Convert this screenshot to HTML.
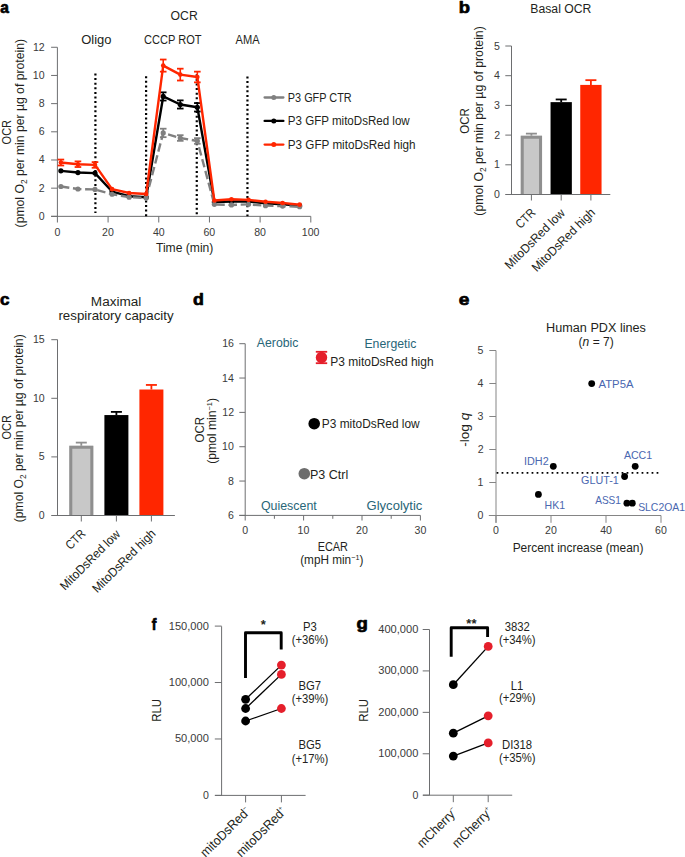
<!DOCTYPE html><html><head><meta charset="utf-8"><style>html,body{margin:0;padding:0;background:#fff;overflow:hidden;width:685px;height:857px;}svg{display:block}</style></head><body>
<svg width="685" height="857" viewBox="0 0 685 857" font-family="&quot;Liberation Sans&quot;, sans-serif">
<rect width="685" height="857" fill="#fff"/>
<text transform="translate(0.18,12.60) scale(0.9235,1)" font-size="16.8" fill="#000" font-weight="bold"  stroke="#000" stroke-width="0.7" stroke-linejoin="round">a</text>
<text transform="translate(170.55,20.00) scale(0.9795,1)" font-size="12.51" fill="#231f20"   >OCR</text>
<text transform="translate(81.22,44.00) scale(1.0933,1)" font-size="11.87" fill="#231f20"   >Oligo</text>
<text transform="translate(143.95,43.90) scale(0.9319,1)" font-size="11.87" fill="#231f20"   >CCCP ROT</text>
<text transform="translate(235.60,43.90) scale(0.9339,1)" font-size="11.87" fill="#231f20"   >AMA</text>
<line x1="57.40" y1="47.30" x2="57.40" y2="216.35" stroke="#6d6e70" stroke-width="1" />
<line x1="51.10" y1="216.35" x2="310.80" y2="216.35" stroke="#6d6e70" stroke-width="1" />
<line x1="51.10" y1="216.35" x2="57.40" y2="216.35" stroke="#6d6e70" stroke-width="1" />
<text transform="translate(38.69,219.85) scale(1.0600,1)" font-size="10.0" fill="#3a3a3a"   >0</text>
<line x1="51.10" y1="188.17" x2="57.40" y2="188.17" stroke="#6d6e70" stroke-width="1" />
<text transform="translate(38.85,191.67) scale(1.0600,1)" font-size="10.0" fill="#3a3a3a"   >2</text>
<line x1="51.10" y1="159.99" x2="57.40" y2="159.99" stroke="#6d6e70" stroke-width="1" />
<text transform="translate(38.63,163.49) scale(1.0600,1)" font-size="10.0" fill="#3a3a3a"   >4</text>
<line x1="51.10" y1="131.81" x2="57.40" y2="131.81" stroke="#6d6e70" stroke-width="1" />
<text transform="translate(38.74,135.31) scale(1.0600,1)" font-size="10.0" fill="#3a3a3a"   >6</text>
<line x1="51.10" y1="103.63" x2="57.40" y2="103.63" stroke="#6d6e70" stroke-width="1" />
<text transform="translate(38.74,107.13) scale(1.0600,1)" font-size="10.0" fill="#3a3a3a"   >8</text>
<line x1="51.10" y1="75.45" x2="57.40" y2="75.45" stroke="#6d6e70" stroke-width="1" />
<text transform="translate(32.80,78.95) scale(1.0600,1)" font-size="10.0" fill="#3a3a3a"   >10</text>
<line x1="51.10" y1="47.27" x2="57.40" y2="47.27" stroke="#6d6e70" stroke-width="1" />
<text transform="translate(32.96,50.77) scale(1.0600,1)" font-size="10.0" fill="#3a3a3a"   >12</text>
<line x1="57.40" y1="216.35" x2="57.40" y2="222.50" stroke="#6d6e70" stroke-width="1" />
<text transform="translate(54.43,235.60) scale(1.0600,1)" font-size="10.0" fill="#3a3a3a"   >0</text>
<line x1="108.08" y1="216.35" x2="108.08" y2="222.50" stroke="#6d6e70" stroke-width="1" />
<text transform="translate(102.12,235.60) scale(1.0600,1)" font-size="10.0" fill="#3a3a3a"   >20</text>
<line x1="158.76" y1="216.35" x2="158.76" y2="222.50" stroke="#6d6e70" stroke-width="1" />
<text transform="translate(152.96,235.60) scale(1.0600,1)" font-size="10.0" fill="#3a3a3a"   >40</text>
<line x1="209.44" y1="216.35" x2="209.44" y2="222.50" stroke="#6d6e70" stroke-width="1" />
<text transform="translate(203.48,235.60) scale(1.0600,1)" font-size="10.0" fill="#3a3a3a"   >60</text>
<line x1="260.12" y1="216.35" x2="260.12" y2="222.50" stroke="#6d6e70" stroke-width="1" />
<text transform="translate(254.18,235.60) scale(1.0600,1)" font-size="10.0" fill="#3a3a3a"   >80</text>
<line x1="310.80" y1="216.35" x2="310.80" y2="222.50" stroke="#6d6e70" stroke-width="1" />
<text transform="translate(301.76,235.60) scale(1.0600,1)" font-size="10.0" fill="#3a3a3a"   >100</text>
<text transform="translate(155.96,252.40) scale(0.9939,1)" font-size="12.19" fill="#231f20"   >Time (min)</text>
<text transform="translate(10.50,144.39) rotate(-90) scale(0.9012,1)" font-size="12.19" fill="#231f20"   >OCR</text>
<text transform="translate(24.30,227.43) rotate(-90) scale(0.9748,1)" font-size="12.51" fill="#231f20"   >(pmol O<tspan font-size="8.5" dy="2.5">2</tspan><tspan dy="-2.5"> per min per µg of protein)</tspan></text>
<line x1="95.41" y1="73.50" x2="95.41" y2="213.00" stroke="#000" stroke-width="2.2" stroke-dasharray="2 2.6"/>
<line x1="146.09" y1="76.20" x2="146.09" y2="216.30" stroke="#000" stroke-width="2.2" stroke-dasharray="2 2.6"/>
<line x1="196.77" y1="74.30" x2="196.77" y2="216.30" stroke="#000" stroke-width="2.2" stroke-dasharray="2 2.6"/>
<line x1="247.45" y1="76.50" x2="247.45" y2="216.30" stroke="#000" stroke-width="2.2" stroke-dasharray="2 2.6"/>
<polyline points="60.90,170.84 77.95,172.53 95.00,173.09 112.06,191.55 129.11,196.20 146.17,197.19 163.22,96.44 180.27,104.48 197.33,107.29 214.38,201.98 231.44,201.56 248.49,201.56 265.54,203.39 282.60,204.23 299.65,205.64" fill="none" stroke="#000" stroke-width="2.4" stroke-linejoin="round" />
<circle cx="60.90" cy="170.84" r="2.6" fill="#000"/>
<circle cx="77.95" cy="172.53" r="2.6" fill="#000"/>
<circle cx="95.00" cy="173.09" r="2.6" fill="#000"/>
<circle cx="112.06" cy="191.55" r="2.6" fill="#000"/>
<circle cx="129.11" cy="196.20" r="2.6" fill="#000"/>
<circle cx="146.17" cy="197.19" r="2.6" fill="#000"/>
<line x1="163.22" y1="216.35" x2="163.22" y2="216.35" stroke="#000" stroke-width="0" />
<line x1="163.22" y1="92.36" x2="163.22" y2="100.53" stroke="#000" stroke-width="1.6" />
<line x1="159.92" y1="92.36" x2="166.52" y2="92.36" stroke="#000" stroke-width="1.8" />
<line x1="159.92" y1="100.53" x2="166.52" y2="100.53" stroke="#000" stroke-width="1.8" />
<circle cx="163.22" cy="96.44" r="2.6" fill="#000"/>
<line x1="180.27" y1="216.35" x2="180.27" y2="216.35" stroke="#000" stroke-width="0" />
<line x1="180.27" y1="100.39" x2="180.27" y2="108.56" stroke="#000" stroke-width="1.6" />
<line x1="176.97" y1="100.39" x2="183.57" y2="100.39" stroke="#000" stroke-width="1.8" />
<line x1="176.97" y1="108.56" x2="183.57" y2="108.56" stroke="#000" stroke-width="1.8" />
<circle cx="180.27" cy="104.48" r="2.6" fill="#000"/>
<line x1="197.33" y1="216.35" x2="197.33" y2="216.35" stroke="#000" stroke-width="0" />
<line x1="197.33" y1="103.07" x2="197.33" y2="111.52" stroke="#000" stroke-width="1.6" />
<line x1="194.03" y1="103.07" x2="200.63" y2="103.07" stroke="#000" stroke-width="1.8" />
<line x1="194.03" y1="111.52" x2="200.63" y2="111.52" stroke="#000" stroke-width="1.8" />
<circle cx="197.33" cy="107.29" r="2.6" fill="#000"/>
<circle cx="214.38" cy="201.98" r="2.6" fill="#000"/>
<circle cx="231.44" cy="201.56" r="2.6" fill="#000"/>
<circle cx="248.49" cy="201.56" r="2.6" fill="#000"/>
<circle cx="265.54" cy="203.39" r="2.6" fill="#000"/>
<circle cx="282.60" cy="204.23" r="2.6" fill="#000"/>
<circle cx="299.65" cy="205.64" r="2.6" fill="#000"/>
<polyline points="60.90,186.48 77.95,189.02 95.00,189.44 112.06,194.23 129.11,197.19 146.17,197.89 163.22,132.94 180.27,138.01 197.33,140.97 214.38,204.37 231.44,204.94 248.49,204.37 265.54,205.64 282.60,206.06 299.65,206.77" fill="none" stroke="#808080" stroke-width="2.4" stroke-linejoin="round" stroke-dasharray="8.5 3.7"/>
<circle cx="60.90" cy="186.48" r="2.6" fill="#808080"/>
<circle cx="77.95" cy="189.02" r="2.6" fill="#808080"/>
<circle cx="95.00" cy="189.44" r="2.6" fill="#808080"/>
<circle cx="112.06" cy="194.23" r="2.6" fill="#808080"/>
<circle cx="129.11" cy="197.19" r="2.6" fill="#808080"/>
<circle cx="146.17" cy="197.89" r="2.6" fill="#808080"/>
<line x1="163.22" y1="216.35" x2="163.22" y2="216.35" stroke="#808080" stroke-width="0" />
<line x1="163.22" y1="128.71" x2="163.22" y2="137.16" stroke="#808080" stroke-width="1.6" />
<line x1="159.92" y1="128.71" x2="166.52" y2="128.71" stroke="#808080" stroke-width="1.8" />
<line x1="159.92" y1="137.16" x2="166.52" y2="137.16" stroke="#808080" stroke-width="1.8" />
<circle cx="163.22" cy="132.94" r="2.6" fill="#808080"/>
<line x1="180.27" y1="216.35" x2="180.27" y2="216.35" stroke="#808080" stroke-width="0" />
<line x1="180.27" y1="135.19" x2="180.27" y2="140.83" stroke="#808080" stroke-width="1.6" />
<line x1="176.97" y1="135.19" x2="183.57" y2="135.19" stroke="#808080" stroke-width="1.8" />
<line x1="176.97" y1="140.83" x2="183.57" y2="140.83" stroke="#808080" stroke-width="1.8" />
<circle cx="180.27" cy="138.01" r="2.6" fill="#808080"/>
<line x1="197.33" y1="216.35" x2="197.33" y2="216.35" stroke="#808080" stroke-width="0" />
<line x1="197.33" y1="138.15" x2="197.33" y2="143.79" stroke="#808080" stroke-width="1.6" />
<line x1="194.03" y1="138.15" x2="200.63" y2="138.15" stroke="#808080" stroke-width="1.8" />
<line x1="194.03" y1="143.79" x2="200.63" y2="143.79" stroke="#808080" stroke-width="1.8" />
<circle cx="197.33" cy="140.97" r="2.6" fill="#808080"/>
<circle cx="214.38" cy="204.37" r="2.6" fill="#808080"/>
<circle cx="231.44" cy="204.94" r="2.6" fill="#808080"/>
<circle cx="248.49" cy="204.37" r="2.6" fill="#808080"/>
<circle cx="265.54" cy="205.64" r="2.6" fill="#808080"/>
<circle cx="282.60" cy="206.06" r="2.6" fill="#808080"/>
<circle cx="299.65" cy="206.77" r="2.6" fill="#808080"/>
<polyline points="60.90,162.53 77.95,164.22 95.00,164.92 112.06,189.16 129.11,192.96 146.17,193.95 163.22,65.59 180.27,74.60 197.33,77.00 214.38,200.57 231.44,199.30 248.49,199.86 265.54,201.70 282.60,202.96 299.65,204.66" fill="none" stroke="#ff2600" stroke-width="2.4" stroke-linejoin="round" />
<line x1="60.90" y1="216.35" x2="60.90" y2="216.35" stroke="#ff2600" stroke-width="0" />
<line x1="60.90" y1="159.57" x2="60.90" y2="165.49" stroke="#ff2600" stroke-width="1.6" />
<line x1="57.60" y1="159.57" x2="64.20" y2="159.57" stroke="#ff2600" stroke-width="1.8" />
<line x1="57.60" y1="165.49" x2="64.20" y2="165.49" stroke="#ff2600" stroke-width="1.8" />
<circle cx="60.90" cy="162.53" r="2.3" fill="#ff2600"/>
<line x1="77.95" y1="216.35" x2="77.95" y2="216.35" stroke="#ff2600" stroke-width="0" />
<line x1="77.95" y1="161.40" x2="77.95" y2="167.03" stroke="#ff2600" stroke-width="1.6" />
<line x1="74.65" y1="161.40" x2="81.25" y2="161.40" stroke="#ff2600" stroke-width="1.8" />
<line x1="74.65" y1="167.03" x2="81.25" y2="167.03" stroke="#ff2600" stroke-width="1.8" />
<circle cx="77.95" cy="164.22" r="2.3" fill="#ff2600"/>
<line x1="95.00" y1="216.35" x2="95.00" y2="216.35" stroke="#ff2600" stroke-width="0" />
<line x1="95.00" y1="162.10" x2="95.00" y2="167.74" stroke="#ff2600" stroke-width="1.6" />
<line x1="91.70" y1="162.10" x2="98.30" y2="162.10" stroke="#ff2600" stroke-width="1.8" />
<line x1="91.70" y1="167.74" x2="98.30" y2="167.74" stroke="#ff2600" stroke-width="1.8" />
<circle cx="95.00" cy="164.92" r="2.3" fill="#ff2600"/>
<circle cx="112.06" cy="189.16" r="2.3" fill="#ff2600"/>
<circle cx="129.11" cy="192.96" r="2.3" fill="#ff2600"/>
<circle cx="146.17" cy="193.95" r="2.3" fill="#ff2600"/>
<line x1="163.22" y1="216.35" x2="163.22" y2="216.35" stroke="#ff2600" stroke-width="0" />
<line x1="163.22" y1="59.53" x2="163.22" y2="71.65" stroke="#ff2600" stroke-width="1.6" />
<line x1="159.92" y1="59.53" x2="166.52" y2="59.53" stroke="#ff2600" stroke-width="1.8" />
<line x1="159.92" y1="71.65" x2="166.52" y2="71.65" stroke="#ff2600" stroke-width="1.8" />
<circle cx="163.22" cy="65.59" r="2.3" fill="#ff2600"/>
<line x1="180.27" y1="216.35" x2="180.27" y2="216.35" stroke="#ff2600" stroke-width="0" />
<line x1="180.27" y1="68.69" x2="180.27" y2="80.52" stroke="#ff2600" stroke-width="1.6" />
<line x1="176.97" y1="68.69" x2="183.57" y2="68.69" stroke="#ff2600" stroke-width="1.8" />
<line x1="176.97" y1="80.52" x2="183.57" y2="80.52" stroke="#ff2600" stroke-width="1.8" />
<circle cx="180.27" cy="74.60" r="2.3" fill="#ff2600"/>
<line x1="197.33" y1="216.35" x2="197.33" y2="216.35" stroke="#ff2600" stroke-width="0" />
<line x1="197.33" y1="71.65" x2="197.33" y2="82.35" stroke="#ff2600" stroke-width="1.6" />
<line x1="194.03" y1="71.65" x2="200.63" y2="71.65" stroke="#ff2600" stroke-width="1.8" />
<line x1="194.03" y1="82.35" x2="200.63" y2="82.35" stroke="#ff2600" stroke-width="1.8" />
<circle cx="197.33" cy="77.00" r="2.3" fill="#ff2600"/>
<circle cx="214.38" cy="200.57" r="2.3" fill="#ff2600"/>
<circle cx="231.44" cy="199.30" r="2.3" fill="#ff2600"/>
<circle cx="248.49" cy="199.86" r="2.3" fill="#ff2600"/>
<circle cx="265.54" cy="201.70" r="2.3" fill="#ff2600"/>
<circle cx="282.60" cy="202.96" r="2.3" fill="#ff2600"/>
<circle cx="299.65" cy="204.66" r="2.3" fill="#ff2600"/>
<line x1="264.60" y1="97.50" x2="283.40" y2="97.50" stroke="#808080" stroke-width="2.3" stroke-linecap="round"/>
<circle cx="273.80" cy="97.50" r="2.5" fill="#808080"/>
<text transform="translate(287.83,101.50) scale(0.9081,1)" font-size="11.98" fill="#231f20"   >P3 GFP CTR</text>
<line x1="264.60" y1="120.90" x2="283.40" y2="120.90" stroke="#000" stroke-width="2.3" stroke-linecap="round"/>
<circle cx="273.80" cy="120.90" r="2.5" fill="#000"/>
<text transform="translate(287.77,124.90) scale(0.9675,1)" font-size="11.98" fill="#231f20"   >P3 GFP mitoDsRed low</text>
<line x1="264.60" y1="144.60" x2="283.40" y2="144.60" stroke="#ff2600" stroke-width="2.3" stroke-linecap="round"/>
<circle cx="273.80" cy="144.60" r="2.5" fill="#ff2600"/>
<text transform="translate(287.76,148.80) scale(0.9775,1)" font-size="11.98" fill="#231f20"   >P3 GFP mitoDsRed high</text>
<text transform="translate(458.75,12.60) scale(1.0962,1)" font-size="16.8" fill="#000" font-weight="bold"  stroke="#000" stroke-width="0.7" stroke-linejoin="round">b</text>
<text transform="translate(530.32,12.90) scale(0.9773,1)" font-size="12.51" fill="#231f20"   >Basal OCR</text>
<rect x="520.75" y="135.69" width="21.30" height="58.81" fill="#c8c8c8" />
<path d="M522.25,194.50V137.19H540.55V194.50" fill="none" stroke="#8f8f8f" stroke-width="3"/>
<line x1="531.40" y1="133.62" x2="531.40" y2="135.69" stroke="#8f8f8f" stroke-width="1.8" />
<line x1="525.90" y1="133.62" x2="536.90" y2="133.62" stroke="#8f8f8f" stroke-width="1.8" />
<rect x="550.55" y="102.13" width="21.30" height="92.37" fill="#000" />
<line x1="561.20" y1="99.46" x2="561.20" y2="102.13" stroke="#000" stroke-width="1.8" />
<line x1="555.70" y1="99.46" x2="566.70" y2="99.46" stroke="#000" stroke-width="1.8" />
<rect x="580.25" y="84.91" width="21.30" height="109.59" fill="#ff2600" />
<line x1="590.90" y1="80.16" x2="590.90" y2="84.91" stroke="#ff2600" stroke-width="1.8" />
<line x1="585.40" y1="80.16" x2="596.40" y2="80.16" stroke="#ff2600" stroke-width="1.8" />
<line x1="511.50" y1="46.00" x2="511.50" y2="194.50" stroke="#6d6e70" stroke-width="1" />
<line x1="505.70" y1="194.50" x2="610.30" y2="194.50" stroke="#6d6e70" stroke-width="1" />
<line x1="505.30" y1="194.50" x2="511.50" y2="194.50" stroke="#6d6e70" stroke-width="1" />
<text transform="translate(493.99,198.00) scale(1.0600,1)" font-size="10.0" fill="#3a3a3a"   >0</text>
<line x1="505.30" y1="164.80" x2="511.50" y2="164.80" stroke="#6d6e70" stroke-width="1" />
<text transform="translate(494.09,168.30) scale(1.0600,1)" font-size="10.0" fill="#3a3a3a"   >1</text>
<line x1="505.30" y1="135.10" x2="511.50" y2="135.10" stroke="#6d6e70" stroke-width="1" />
<text transform="translate(494.15,138.60) scale(1.0600,1)" font-size="10.0" fill="#3a3a3a"   >2</text>
<line x1="505.30" y1="105.40" x2="511.50" y2="105.40" stroke="#6d6e70" stroke-width="1" />
<text transform="translate(494.04,108.90) scale(1.0600,1)" font-size="10.0" fill="#3a3a3a"   >3</text>
<line x1="505.30" y1="75.70" x2="511.50" y2="75.70" stroke="#6d6e70" stroke-width="1" />
<text transform="translate(493.94,79.20) scale(1.0600,1)" font-size="10.0" fill="#3a3a3a"   >4</text>
<line x1="505.30" y1="46.00" x2="511.50" y2="46.00" stroke="#6d6e70" stroke-width="1" />
<text transform="translate(494.04,49.50) scale(1.0600,1)" font-size="10.0" fill="#3a3a3a"   >5</text>
<line x1="531.40" y1="194.50" x2="531.40" y2="200.50" stroke="#6d6e70" stroke-width="1" />
<line x1="561.20" y1="194.50" x2="561.20" y2="200.50" stroke="#6d6e70" stroke-width="1" />
<line x1="590.90" y1="194.50" x2="590.90" y2="200.50" stroke="#6d6e70" stroke-width="1" />
<text transform="translate(520.57,229.23) rotate(-45) scale(0.8678,1)" font-size="12.51" fill="#231f20"   >CTR</text>
<text transform="translate(509.69,269.91) rotate(-45) scale(0.9432,1)" font-size="12.51" fill="#231f20"   >MitoDsRed low</text>
<text transform="translate(536.68,272.62) rotate(-45) scale(0.9432,1)" font-size="12.51" fill="#231f20"   >MitoDsRed high</text>
<text transform="translate(469.20,133.72) rotate(-90) scale(0.9436,1)" font-size="12.19" fill="#231f20"   >OCR</text>
<text transform="translate(483.20,215.64) rotate(-90) scale(0.9799,1)" font-size="12.51" fill="#231f20"   >(pmol O<tspan font-size="8.5" dy="2.5">2</tspan><tspan dy="-2.5"> per min per µg of protein)</tspan></text>
<text transform="translate(-0.03,304.60) scale(1.0187,1)" font-size="16.8" fill="#000" font-weight="bold"  stroke="#000" stroke-width="0.7" stroke-linejoin="round">c</text>
<text transform="translate(90.86,305.70) scale(1.0847,1)" font-size="12.51" fill="#231f20"   >Maximal</text>
<text transform="translate(58.44,320.00) scale(1.0627,1)" font-size="12.51" fill="#231f20"   >respiratory capacity</text>
<rect x="69.30" y="445.77" width="24.00" height="69.73" fill="#c8c8c8" />
<path d="M70.80,515.50V447.27H91.80V515.50" fill="none" stroke="#8f8f8f" stroke-width="3"/>
<line x1="81.30" y1="442.60" x2="81.30" y2="445.77" stroke="#8f8f8f" stroke-width="1.8" />
<line x1="75.80" y1="442.60" x2="86.80" y2="442.60" stroke="#8f8f8f" stroke-width="1.8" />
<rect x="104.40" y="415.06" width="24.00" height="100.44" fill="#000" />
<line x1="116.40" y1="411.90" x2="116.40" y2="415.06" stroke="#000" stroke-width="1.8" />
<line x1="110.90" y1="411.90" x2="121.90" y2="411.90" stroke="#000" stroke-width="1.8" />
<rect x="139.40" y="389.51" width="24.00" height="125.99" fill="#ff2600" />
<line x1="151.40" y1="384.94" x2="151.40" y2="389.51" stroke="#ff2600" stroke-width="1.8" />
<line x1="145.90" y1="384.94" x2="156.90" y2="384.94" stroke="#ff2600" stroke-width="1.8" />
<line x1="57.50" y1="339.60" x2="57.50" y2="515.50" stroke="#6d6e70" stroke-width="1" />
<line x1="51.70" y1="515.50" x2="174.90" y2="515.50" stroke="#6d6e70" stroke-width="1" />
<line x1="51.30" y1="515.50" x2="57.50" y2="515.50" stroke="#6d6e70" stroke-width="1" />
<text transform="translate(38.79,519.00) scale(1.0600,1)" font-size="10.0" fill="#3a3a3a"   >0</text>
<line x1="51.30" y1="456.90" x2="57.50" y2="456.90" stroke="#6d6e70" stroke-width="1" />
<text transform="translate(38.84,460.40) scale(1.0600,1)" font-size="10.0" fill="#3a3a3a"   >5</text>
<line x1="51.30" y1="398.30" x2="57.50" y2="398.30" stroke="#6d6e70" stroke-width="1" />
<text transform="translate(32.90,401.80) scale(1.0600,1)" font-size="10.0" fill="#3a3a3a"   >10</text>
<line x1="51.30" y1="339.70" x2="57.50" y2="339.70" stroke="#6d6e70" stroke-width="1" />
<text transform="translate(32.96,343.20) scale(1.0600,1)" font-size="10.0" fill="#3a3a3a"   >15</text>
<line x1="81.30" y1="515.50" x2="81.30" y2="521.50" stroke="#6d6e70" stroke-width="1" />
<line x1="116.40" y1="515.50" x2="116.40" y2="521.50" stroke="#6d6e70" stroke-width="1" />
<line x1="151.40" y1="515.50" x2="151.40" y2="521.50" stroke="#6d6e70" stroke-width="1" />
<text transform="translate(70.47,550.23) rotate(-45) scale(0.8678,1)" font-size="12.51" fill="#231f20"   >CTR</text>
<text transform="translate(64.89,590.91) rotate(-45) scale(0.9432,1)" font-size="12.51" fill="#231f20"   >MitoDsRed low</text>
<text transform="translate(97.18,593.62) rotate(-45) scale(0.9432,1)" font-size="12.51" fill="#231f20"   >MitoDsRed high</text>
<text transform="translate(10.50,439.49) rotate(-90) scale(0.8974,1)" font-size="12.19" fill="#231f20"   >OCR</text>
<text transform="translate(23.20,522.23) rotate(-90) scale(0.9722,1)" font-size="12.51" fill="#231f20"   >(pmol O<tspan font-size="8.5" dy="2.5">2</tspan><tspan dy="-2.5"> per min per µg of protein)</tspan></text>
<text transform="translate(193.04,304.50) scale(1.0608,1)" font-size="16.8" fill="#000" font-weight="bold"  stroke="#000" stroke-width="0.7" stroke-linejoin="round">d</text>
<line x1="245.20" y1="343.70" x2="245.20" y2="515.40" stroke="#6d6e70" stroke-width="1" />
<line x1="239.30" y1="515.40" x2="420.40" y2="515.40" stroke="#6d6e70" stroke-width="1" />
<line x1="239.30" y1="515.40" x2="245.20" y2="515.40" stroke="#6d6e70" stroke-width="1" />
<text transform="translate(228.04,518.90) scale(1.0600,1)" font-size="10.0" fill="#3a3a3a"   >6</text>
<line x1="239.30" y1="481.06" x2="245.20" y2="481.06" stroke="#6d6e70" stroke-width="1" />
<text transform="translate(228.04,484.56) scale(1.0600,1)" font-size="10.0" fill="#3a3a3a"   >8</text>
<line x1="239.30" y1="446.72" x2="245.20" y2="446.72" stroke="#6d6e70" stroke-width="1" />
<text transform="translate(222.11,450.22) scale(1.0600,1)" font-size="10.0" fill="#3a3a3a"   >10</text>
<line x1="239.30" y1="412.38" x2="245.20" y2="412.38" stroke="#6d6e70" stroke-width="1" />
<text transform="translate(222.26,415.88) scale(1.0600,1)" font-size="10.0" fill="#3a3a3a"   >12</text>
<line x1="239.30" y1="378.04" x2="245.20" y2="378.04" stroke="#6d6e70" stroke-width="1" />
<text transform="translate(222.05,381.54) scale(1.0600,1)" font-size="10.0" fill="#3a3a3a"   >14</text>
<line x1="239.30" y1="343.70" x2="245.20" y2="343.70" stroke="#6d6e70" stroke-width="1" />
<text transform="translate(222.16,347.20) scale(1.0600,1)" font-size="10.0" fill="#3a3a3a"   >16</text>
<line x1="245.20" y1="515.40" x2="245.20" y2="520.50" stroke="#6d6e70" stroke-width="1" />
<text transform="translate(242.23,533.80) scale(1.0600,1)" font-size="10.0" fill="#3a3a3a"   >0</text>
<line x1="274.40" y1="515.40" x2="274.40" y2="518.80" stroke="#6d6e70" stroke-width="1" />
<line x1="303.60" y1="515.40" x2="303.60" y2="520.50" stroke="#6d6e70" stroke-width="1" />
<text transform="translate(297.50,533.80) scale(1.0600,1)" font-size="10.0" fill="#3a3a3a"   >10</text>
<line x1="332.80" y1="515.40" x2="332.80" y2="518.80" stroke="#6d6e70" stroke-width="1" />
<line x1="362.00" y1="515.40" x2="362.00" y2="520.50" stroke="#6d6e70" stroke-width="1" />
<text transform="translate(356.04,533.80) scale(1.0600,1)" font-size="10.0" fill="#3a3a3a"   >20</text>
<line x1="391.20" y1="515.40" x2="391.20" y2="518.80" stroke="#6d6e70" stroke-width="1" />
<line x1="420.40" y1="515.40" x2="420.40" y2="520.50" stroke="#6d6e70" stroke-width="1" />
<text transform="translate(414.49,533.80) scale(1.0600,1)" font-size="10.0" fill="#3a3a3a"   >30</text>
<text transform="translate(256.80,347.40) scale(1.0365,1)" font-size="11.87" fill="#286678"   >Aerobic</text>
<text transform="translate(364.42,348.10) scale(1.0367,1)" font-size="11.87" fill="#286678"   >Energetic</text>
<text transform="translate(260.94,510.20) scale(1.0450,1)" font-size="11.87" fill="#286678"   >Quiescent</text>
<text transform="translate(366.55,510.20) scale(1.0999,1)" font-size="11.87" fill="#286678"   >Glycolytic</text>
<line x1="321.50" y1="351.80" x2="321.50" y2="363.20" stroke="#e51f2b" stroke-width="1.8" />
<line x1="315.80" y1="351.80" x2="327.20" y2="351.80" stroke="#e51f2b" stroke-width="1.8" />
<line x1="315.80" y1="363.20" x2="327.20" y2="363.20" stroke="#e51f2b" stroke-width="1.8" />
<circle cx="321.50" cy="357.50" r="5.7" fill="#e51f2b"/>
<circle cx="314.20" cy="423.70" r="5.8" fill="#000"/>
<circle cx="304.30" cy="473.70" r="5.8" fill="#6d6d6d"/>
<text transform="translate(330.24,365.80) scale(1.0023,1)" font-size="11.98" fill="#231f20"   >P3 mitoDsRed high</text>
<text transform="translate(321.85,428.20) scale(0.9935,1)" font-size="11.98" fill="#231f20"   >P3 mitoDsRed low</text>
<text transform="translate(310.00,478.80) scale(1.0470,1)" font-size="11.98" fill="#231f20"   >P3 Ctrl</text>
<text transform="translate(317.63,551.40) scale(0.8946,1)" font-size="12.19" fill="#231f20"   >ECAR</text>
<text transform="translate(300.19,564.20) scale(0.9660,1)" font-size="12.19" fill="#231f20"   >(mpH min<tspan font-size="7.5" dy="-4">−1</tspan><tspan dy="4">)</tspan></text>
<text transform="translate(204.30,442.52) rotate(-90) scale(0.9436,1)" font-size="12.19" fill="#231f20"   >OCR</text>
<text transform="translate(216.00,463.73) rotate(-90) scale(0.9937,1)" font-size="12.19" fill="#231f20"   >(pmol min<tspan font-size="7.5" dy="-4">−1</tspan><tspan dy="4">)</tspan></text>
<text transform="translate(458.78,304.90) scale(1.1409,1)" font-size="16.8" fill="#000" font-weight="bold"  stroke="#000" stroke-width="0.7" stroke-linejoin="round">e</text>
<text transform="translate(546.09,331.50) scale(1.0117,1)" font-size="12.51" fill="#231f20"   >Human PDX lines</text>
<text transform="translate(578.58,345.90) scale(0.9638,1)" font-size="12.51" fill="#231f20"   >(<tspan font-style="italic">n</tspan> = 7)</text>
<line x1="496.00" y1="350.50" x2="496.00" y2="522.80" stroke="#858585" stroke-width="1.0" />
<line x1="488.80" y1="515.50" x2="661.00" y2="515.50" stroke="#858585" stroke-width="1.0" />
<line x1="489.30" y1="515.50" x2="496.00" y2="515.50" stroke="#858585" stroke-width="1.0" />
<text transform="translate(477.49,519.00) scale(1.0600,1)" font-size="10.0" fill="#3a3a3a"   >0</text>
<line x1="489.30" y1="482.50" x2="496.00" y2="482.50" stroke="#858585" stroke-width="1.0" />
<text transform="translate(477.59,486.00) scale(1.0600,1)" font-size="10.0" fill="#3a3a3a"   >1</text>
<line x1="489.30" y1="449.50" x2="496.00" y2="449.50" stroke="#858585" stroke-width="1.0" />
<text transform="translate(477.65,453.00) scale(1.0600,1)" font-size="10.0" fill="#3a3a3a"   >2</text>
<line x1="489.30" y1="416.50" x2="496.00" y2="416.50" stroke="#858585" stroke-width="1.0" />
<text transform="translate(477.54,420.00) scale(1.0600,1)" font-size="10.0" fill="#3a3a3a"   >3</text>
<line x1="489.30" y1="383.50" x2="496.00" y2="383.50" stroke="#858585" stroke-width="1.0" />
<text transform="translate(477.44,387.00) scale(1.0600,1)" font-size="10.0" fill="#3a3a3a"   >4</text>
<line x1="489.30" y1="350.50" x2="496.00" y2="350.50" stroke="#858585" stroke-width="1.0" />
<text transform="translate(477.54,354.00) scale(1.0600,1)" font-size="10.0" fill="#3a3a3a"   >5</text>
<line x1="496.00" y1="515.50" x2="496.00" y2="522.80" stroke="#858585" stroke-width="1.0" />
<text transform="translate(493.03,534.20) scale(1.0600,1)" font-size="10.0" fill="#3a3a3a"   >0</text>
<line x1="551.00" y1="515.50" x2="551.00" y2="522.80" stroke="#858585" stroke-width="1.0" />
<text transform="translate(545.04,534.20) scale(1.0600,1)" font-size="10.0" fill="#3a3a3a"   >20</text>
<line x1="606.00" y1="515.50" x2="606.00" y2="522.80" stroke="#858585" stroke-width="1.0" />
<text transform="translate(600.20,534.20) scale(1.0600,1)" font-size="10.0" fill="#3a3a3a"   >40</text>
<line x1="661.00" y1="515.50" x2="661.00" y2="522.80" stroke="#858585" stroke-width="1.0" />
<text transform="translate(655.04,534.20) scale(1.0600,1)" font-size="10.0" fill="#3a3a3a"   >60</text>
<line x1="496.60" y1="472.80" x2="661.00" y2="472.80" stroke="#000" stroke-width="1.75" stroke-dasharray="1.75 3.25"/>
<circle cx="553.30" cy="466.30" r="3.4" fill="#000"/>
<circle cx="635.20" cy="466.30" r="3.4" fill="#000"/>
<circle cx="624.60" cy="476.50" r="3.4" fill="#000"/>
<circle cx="538.40" cy="494.40" r="3.4" fill="#000"/>
<circle cx="626.90" cy="503.20" r="3.4" fill="#000"/>
<circle cx="632.30" cy="503.20" r="3.4" fill="#000"/>
<circle cx="591.70" cy="383.60" r="3.4" fill="#000"/>
<text transform="translate(598.50,387.60) scale(0.9892,1)" font-size="11.45" fill="#4a67b0"   >ATP5A</text>
<text transform="translate(524.07,465.40) scale(0.9432,1)" font-size="11.45" fill="#4a67b0"   >IDH2</text>
<text transform="translate(623.90,459.00) scale(0.9267,1)" font-size="11.45" fill="#4a67b0"   >ACC1</text>
<text transform="translate(581.06,484.00) scale(0.9413,1)" font-size="11.45" fill="#4a67b0"   >GLUT-1</text>
<text transform="translate(544.56,509.30) scale(0.9213,1)" font-size="11.45" fill="#4a67b0"   >HK1</text>
<text transform="translate(595.20,503.90) scale(0.8803,1)" font-size="11.45" fill="#4a67b0"   >ASS1</text>
<text transform="translate(638.13,510.60) scale(0.9110,1)" font-size="11.45" fill="#4a67b0"   >SLC2OA1</text>
<text transform="translate(512.64,552.00) scale(0.9817,1)" font-size="12.19" fill="#231f20"   >Percent increase (mean)</text>
<text transform="translate(469.00,446.82) rotate(-90) scale(1.1224,1)" font-size="12.19" fill="#231f20"   >-log <tspan font-style="italic">q</tspan></text>
<text transform="translate(151.64,629.80) scale(0.8371,1)" font-size="16.8" fill="#000" font-weight="bold"  stroke="#000" stroke-width="0.7" stroke-linejoin="round">f</text>
<line x1="221.60" y1="626.30" x2="221.60" y2="795.40" stroke="#6d6e70" stroke-width="1" />
<line x1="215.10" y1="795.40" x2="305.60" y2="795.40" stroke="#6d6e70" stroke-width="1" />
<line x1="214.80" y1="795.40" x2="221.60" y2="795.40" stroke="#6d6e70" stroke-width="1" />
<text transform="translate(202.99,798.90) scale(1.0600,1)" font-size="10.0" fill="#3a3a3a"   >0</text>
<line x1="214.80" y1="738.97" x2="221.60" y2="738.97" stroke="#6d6e70" stroke-width="1" />
<text transform="translate(174.92,742.47) scale(1.1100,1)" font-size="10.0" fill="#3a3a3a"   >50,000</text>
<line x1="214.80" y1="682.53" x2="221.60" y2="682.53" stroke="#6d6e70" stroke-width="1" />
<text transform="translate(168.76,686.03) scale(1.1100,1)" font-size="10.0" fill="#3a3a3a"   >100,000</text>
<line x1="214.80" y1="626.10" x2="221.60" y2="626.10" stroke="#6d6e70" stroke-width="1" />
<text transform="translate(168.76,629.60) scale(1.1100,1)" font-size="10.0" fill="#3a3a3a"   >150,000</text>
<line x1="245.60" y1="795.40" x2="245.60" y2="802.40" stroke="#6d6e70" stroke-width="1" />
<line x1="281.40" y1="795.40" x2="281.40" y2="802.40" stroke="#6d6e70" stroke-width="1" />
<polyline points="245.50,678.00 245.50,632.70 281.20,632.70 281.20,649.50" fill="none" stroke="#000" stroke-width="2.9" stroke-linejoin="round" stroke-linejoin="miter"/>
<text transform="translate(260.66,628.70) scale(1.0000,1)" font-size="13.0" fill="#231f20" font-weight="bold"  >*</text>
<line x1="245.60" y1="699.30" x2="281.40" y2="665.10" stroke="#000" stroke-width="1.3" />
<line x1="245.60" y1="708.50" x2="281.40" y2="674.40" stroke="#000" stroke-width="1.3" />
<line x1="245.60" y1="721.00" x2="281.40" y2="708.50" stroke="#000" stroke-width="1.3" />
<circle cx="245.60" cy="699.30" r="4.4" fill="#000"/>
<circle cx="245.60" cy="708.50" r="4.4" fill="#000"/>
<circle cx="245.60" cy="721.00" r="4.4" fill="#000"/>
<circle cx="281.40" cy="665.10" r="4.4" fill="#e51f2b"/>
<circle cx="281.40" cy="674.40" r="4.4" fill="#e51f2b"/>
<circle cx="281.40" cy="708.50" r="4.4" fill="#e51f2b"/>
<text transform="translate(302.88,630.70) scale(0.9432,1)" font-size="11.98" fill="#231f20"   >P3</text>
<text transform="translate(291.64,643.90) scale(0.9432,1)" font-size="11.98" fill="#231f20"   >(+36%)</text>
<text transform="translate(298.53,690.20) scale(0.9432,1)" font-size="11.98" fill="#231f20"   >BG7</text>
<text transform="translate(291.64,703.00) scale(0.9432,1)" font-size="11.98" fill="#231f20"   >(+39%)</text>
<text transform="translate(298.47,748.80) scale(0.9432,1)" font-size="11.98" fill="#231f20"   >BG5</text>
<text transform="translate(291.64,763.10) scale(0.9432,1)" font-size="11.98" fill="#231f20"   >(+17%)</text>
<text transform="translate(205.56,857.84) rotate(-45) scale(0.9433,1)" font-size="13.04" fill="#231f20"   >mitoDsRed<tspan font-size="6.5" dy="-5.5">−</tspan></text>
<text transform="translate(241.36,857.84) rotate(-45) scale(0.9433,1)" font-size="13.04" fill="#231f20"   >mitoDsRed<tspan font-size="6.5" dy="-5.5">+</tspan></text>
<text transform="translate(161.30,721.81) rotate(-90) scale(0.9382,1)" font-size="12.19" fill="#231f20"   >RLU</text>
<text transform="translate(356.61,629.10) scale(1.1080,1)" font-size="16.8" fill="#000" font-weight="bold"  stroke="#000" stroke-width="0.7" stroke-linejoin="round">g</text>
<line x1="429.50" y1="629.50" x2="429.50" y2="795.20" stroke="#6d6e70" stroke-width="1" />
<line x1="423.00" y1="795.20" x2="512.20" y2="795.20" stroke="#6d6e70" stroke-width="1" />
<line x1="422.70" y1="795.20" x2="429.50" y2="795.20" stroke="#6d6e70" stroke-width="1" />
<text transform="translate(412.49,798.70) scale(1.0600,1)" font-size="10.0" fill="#3a3a3a"   >0</text>
<line x1="422.70" y1="753.78" x2="429.50" y2="753.78" stroke="#6d6e70" stroke-width="1" />
<text transform="translate(378.26,757.28) scale(1.1100,1)" font-size="10.0" fill="#3a3a3a"   >100,000</text>
<line x1="422.70" y1="712.35" x2="429.50" y2="712.35" stroke="#6d6e70" stroke-width="1" />
<text transform="translate(378.26,715.85) scale(1.1100,1)" font-size="10.0" fill="#3a3a3a"   >200,000</text>
<line x1="422.70" y1="670.92" x2="429.50" y2="670.92" stroke="#6d6e70" stroke-width="1" />
<text transform="translate(378.26,674.42) scale(1.1100,1)" font-size="10.0" fill="#3a3a3a"   >300,000</text>
<line x1="422.70" y1="629.50" x2="429.50" y2="629.50" stroke="#6d6e70" stroke-width="1" />
<text transform="translate(378.26,633.00) scale(1.1100,1)" font-size="10.0" fill="#3a3a3a"   >400,000</text>
<line x1="453.30" y1="795.20" x2="453.30" y2="802.20" stroke="#6d6e70" stroke-width="1" />
<line x1="488.20" y1="795.20" x2="488.20" y2="802.20" stroke="#6d6e70" stroke-width="1" />
<polyline points="451.20,656.70 451.20,627.70 487.60,627.70 487.60,637.10" fill="none" stroke="#000" stroke-width="2.9" stroke-linejoin="round" stroke-linejoin="miter"/>
<text transform="translate(466.33,627.90) scale(1.0000,1)" font-size="13.0" fill="#231f20" font-weight="bold"  >**</text>
<line x1="453.30" y1="684.70" x2="488.20" y2="646.40" stroke="#000" stroke-width="1.3" />
<line x1="453.30" y1="733.20" x2="488.20" y2="715.80" stroke="#000" stroke-width="1.3" />
<line x1="453.30" y1="756.10" x2="488.20" y2="742.90" stroke="#000" stroke-width="1.3" />
<circle cx="453.30" cy="684.70" r="4.4" fill="#000"/>
<circle cx="453.30" cy="733.20" r="4.4" fill="#000"/>
<circle cx="453.30" cy="756.10" r="4.4" fill="#000"/>
<circle cx="488.20" cy="646.40" r="4.4" fill="#e51f2b"/>
<circle cx="488.20" cy="715.80" r="4.4" fill="#e51f2b"/>
<circle cx="488.20" cy="742.90" r="4.4" fill="#e51f2b"/>
<text transform="translate(504.79,630.50) scale(0.9432,1)" font-size="11.98" fill="#231f20"   >3832</text>
<text transform="translate(498.94,643.60) scale(0.9432,1)" font-size="11.98" fill="#231f20"   >(+34%)</text>
<text transform="translate(510.83,689.90) scale(0.9432,1)" font-size="11.98" fill="#231f20"   >L1</text>
<text transform="translate(498.94,702.40) scale(0.9432,1)" font-size="11.98" fill="#231f20"   >(+29%)</text>
<text transform="translate(502.02,749.00) scale(0.9432,1)" font-size="11.98" fill="#231f20"   >DI318</text>
<text transform="translate(498.94,761.50) scale(0.9432,1)" font-size="11.98" fill="#231f20"   >(+35%)</text>
<text transform="translate(422.35,848.55) rotate(-45) scale(0.9433,1)" font-size="13.04" fill="#231f20"   >mCherry<tspan font-size="6.5" dy="-5.5">−</tspan></text>
<text transform="translate(457.25,848.55) rotate(-45) scale(0.9433,1)" font-size="13.04" fill="#231f20"   >mCherry<tspan font-size="6.5" dy="-5.5">+</tspan></text>
<text transform="translate(368.00,721.81) rotate(-90) scale(0.9382,1)" font-size="12.19" fill="#231f20"   >RLU</text>
</svg></body></html>
